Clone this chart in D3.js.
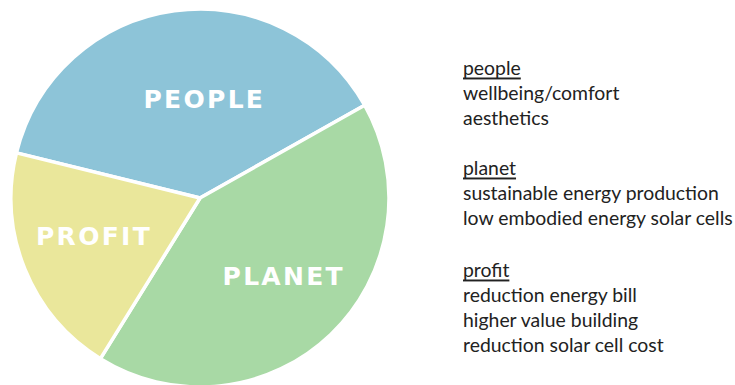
<!DOCTYPE html>
<html>
<head>
<meta charset="utf-8">
<script src="https://cdn.jsdelivr.net/npm/d3@7"></script>
<style>
  html, body { margin: 0; padding: 0; background: #ffffff; }
  svg { display: block; }
</style>
</head>
<body>
<svg id="chart" width="735" height="385"></svg>
<script>
// ---- data ----
const categories = ["PEOPLE", "PLANET", "PROFIT"];
const values = [38, 42, 20];
const colors = ["#8dc4d8", "#a8d9a5", "#eae79b"];
const legendHeadings = ["people", "planet", "profit"];
const legendItems = [
  ["wellbeing/comfort", "aesthetics"],
  ["sustainable energy production", "low embodied energy solar cells"],
  ["reduction energy bill", "higher value building", "reduction solar cell cost"]
];

// ---- layout ----
const svg = d3.select("#chart");
const cx = 200, cy = 198, R = 189;
const labelOffsets = [[19, 8], [9, 1], [-6, -2]];

const pie = d3.pie().sort(null).startAngle(-76.2 * Math.PI / 180).endAngle((360 - 76.2) * Math.PI / 180);
const arcs = pie(values);
const arc = d3.arc().innerRadius(0).outerRadius(R);
const labelArc = d3.arc().innerRadius(108).outerRadius(108);

const g = svg.append("g").attr("transform", `translate(${cx},${cy})`);
g.selectAll("path.slice").data(arcs).enter().append("path")
  .attr("class", "slice")
  .attr("d", arc)
  .attr("fill", (d, i) => colors[i])
  .attr("stroke", "#ffffff")
  .attr("stroke-width", 3.5)
  .attr("stroke-linejoin", "round");

g.selectAll("text.lbl").data(arcs).enter().append("text")
  .attr("class", "lbl")
  .attr("x", (d, i) => labelArc.centroid(d)[0] + labelOffsets[i][0])
  .attr("y", (d, i) => labelArc.centroid(d)[1] + labelOffsets[i][1])
  .attr("text-anchor", "middle")
  .attr("dominant-baseline", "central")
  .attr("fill", "#ffffff")
  .attr("font-family", "'DejaVu Sans', Verdana, sans-serif")
  .attr("font-weight", "bold")
  .attr("font-size", 25)
  .attr("letter-spacing", 2.3)
  .text((d, i) => categories[i]);

// ---- legend text ----
const lx = 463;
const lineH = 25.2;
const blockStarts = [67, 167, 269];
const lg = svg.append("g")
  .attr("font-family", "Lato, 'Open Sans', sans-serif")
  .attr("font-size", 19.4)
  .attr("fill", "#222222");

legendHeadings.forEach((h, bi) => {
  const y0 = blockStarts[bi];
  lg.append("text")
    .attr("x", lx).attr("y", y0)
    .attr("dominant-baseline", "central")
    .attr("text-decoration", "underline")
    .text(h);
  legendItems[bi].forEach((t, li) => {
    lg.append("text")
      .attr("x", lx).attr("y", y0 + lineH * (li + 1))
      .attr("dominant-baseline", "central")
      .text(t);
  });
});
</script>
</body>
</html>
